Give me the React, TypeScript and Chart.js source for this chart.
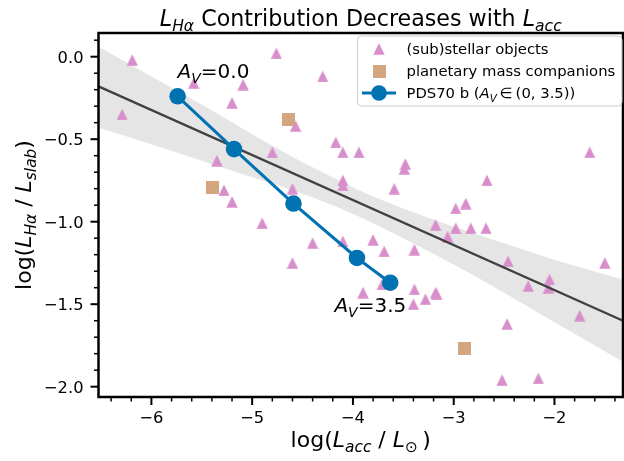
import React, { useEffect, useRef } from 'react';
import { Chart, registerables } from 'chart.js';

Chart.register(...registerables);

// ---- data ----
const stellarX = [
  -6.19, -4.76, -5.58, -5.09, -4.30, -5.20, -6.29, -4.57, -4.17, -4.10,
  -3.94, -4.80, -5.35, -5.28, -4.10, -4.10, -4.60, -5.20, -4.90, -1.65,
  -3.48, -3.49, -2.67, -3.59, -2.98, -2.88, -3.18, -2.98, -2.83, -2.68,
  -3.06, -3.80, -3.69, -3.39, -4.10, -4.40, -4.60, -3.71, -3.90, -3.39,
  -3.18, -3.17, -3.28, -3.40, -2.46, -2.26, -2.05, -2.06, -1.50, -1.75,
  -2.47, -2.52, -2.16,
];
const stellarY = [
  -0.02, 0.02, -0.16, -0.17, -0.12, -0.28, -0.35, -0.42, -0.52, -0.58,
  -0.58, -0.58, -0.63, -0.81, -0.75, -0.78, -0.80, -0.88, -1.01, -0.58,
  -0.65, -0.68, -0.75, -0.80, -0.92, -0.89, -1.02, -1.04, -1.04, -1.04,
  -1.09, -1.11, -1.18, -1.17, -1.12, -1.13, -1.25, -1.38, -1.43, -1.41,
  -1.43, -1.44, -1.47, -1.50, -1.24, -1.39, -1.35, -1.40, -1.25, -1.57,
  -1.62, -1.96, -1.95,
];
const companionX = [-4.64, -5.39, -2.89];
const companionY = [-0.38, -0.79, -1.77];
const pdsX = [-5.74, -5.18, -4.59, -3.96, -3.63];
const pdsY = [-0.24, -0.56, -0.89, -1.22, -1.37];
const avLabels = ['0.0', '3.5'];
const fitX = [-6.525, -1.32];
const fitY = [-0.18, -1.6];
const bandX = [-6.525, -6.0, -5.5, -5.0, -4.5, -4.2, -3.9, -3.5, -3.0, -2.5, -2.0, -1.32];
const bandUpper = [0.06, -0.12, -0.29, -0.47, -0.64, -0.73, -0.82, -0.92, -1.03, -1.13, -1.23, -1.35];
const bandLower = [-0.43, -0.53, -0.63, -0.73, -0.83, -0.90, -0.98, -1.10, -1.26, -1.43, -1.61, -1.85];
const xTicks = [-6, -5, -4, -3, -2];
const yTicks = [0, -0.5, -1, -1.5, -2];
const xRange = [-6.525, -1.32];
const yRange = [-2.0625, 0.1436];

const FAM = '"DejaVu Sans"';
const TRI_COLOR = 'rgb(216,142,203)';
const SQ_COLOR = 'rgb(212,166,128)';
const BLUE = '#0072B2';

type Seg = { t: string; it?: boolean; sub?: boolean };

function fontOf(size: number, it?: boolean) {
  return `${it ? 'italic ' : ''}${size}px ${FAM}`;
}
function segWidth(ctx: CanvasRenderingContext2D, s: Seg, size: number) {
  ctx.font = fontOf(s.sub ? size * 0.7 : size, s.it);
  return ctx.measureText(s.t).width;
}
function drawRich(ctx: CanvasRenderingContext2D, segs: Seg[], x: number, y: number, size: number, align: 'left' | 'center' | 'right') {
  const w = segs.reduce((acc, s) => acc + segWidth(ctx, s, size), 0);
  let cx = align === 'center' ? x - w / 2 : align === 'right' ? x - w : x;
  ctx.textAlign = 'left';
  ctx.textBaseline = 'alphabetic';
  for (const s of segs) {
    const sw = segWidth(ctx, s, size);
    ctx.font = fontOf(s.sub ? size * 0.7 : size, s.it);
    ctx.fillText(s.t, cx, y + (s.sub ? size * 0.22 : 0));
    cx += sw;
  }
}

function makeMarker(kind: 'tri' | 'sq', size: number, color: string) {
  const c = document.createElement('canvas');
  c.width = size;
  c.height = size;
  const g = c.getContext('2d')!;
  g.fillStyle = color;
  if (kind === 'tri') {
    g.beginPath();
    g.moveTo(size / 2, 0.3);
    g.lineTo(size - 0.3, size - 0.3);
    g.lineTo(0.3, size - 0.3);
    g.closePath();
    g.fill();
  } else {
    g.fillRect(0, 0, size, size);
  }
  return c;
}

export default function App() {
  const ref = useRef<HTMLCanvasElement>(null);
  useEffect(() => {
    document.body.style.margin = '0';
    const canvas = ref.current!;
    const tri = makeMarker('tri', 12, TRI_COLOR);
    const sq = makeMarker('sq', 13, SQ_COLOR);
    const pts = (xs: number[], ys: number[]) => xs.map((x, i) => ({ x, y: ys[i] }));

    const decor = {
      id: 'decor',
      afterDatasetsDraw(chart: any) {
        const { ctx, chartArea: a, scales } = chart;
        const xs = scales.x;
        const ys = scales.y;
        ctx.save();
        ctx.fillStyle = '#000';
        ctx.strokeStyle = '#000';

        // frame
        ctx.lineWidth = 2.5;
        ctx.strokeRect(a.left, a.top, a.right - a.left, a.bottom - a.top);

        // x ticks
        for (let i = Math.ceil(xRange[0] / 0.2 - 1e-6); i <= Math.floor(xRange[1] / 0.2 + 1e-6); i++) {
          const v = i * 0.2;
          const major = Math.abs(v - Math.round(v)) < 1e-6;
          const px = xs.getPixelForValue(v);
          ctx.lineWidth = major ? 2 : 1.5;
          ctx.beginPath();
          ctx.moveTo(px, a.bottom);
          ctx.lineTo(px, a.bottom + (major ? 8 : 4.5));
          ctx.stroke();
        }
        ctx.font = fontOf(16.3);
        ctx.textAlign = 'center';
        ctx.textBaseline = 'alphabetic';
        for (const v of xTicks) {
          ctx.fillText('\u2212' + Math.abs(v).toFixed(0), xs.getPixelForValue(v), 423);
        }

        // y ticks
        for (let i = Math.ceil(yRange[0] / 0.1 - 1e-6); i <= Math.floor(yRange[1] / 0.1 + 1e-6); i++) {
          const v = i * 0.1;
          const major = Math.abs(v * 2 - Math.round(v * 2)) < 1e-6;
          const py = ys.getPixelForValue(v);
          ctx.lineWidth = major ? 2 : 1.5;
          ctx.beginPath();
          ctx.moveTo(a.left, py);
          ctx.lineTo(a.left - (major ? 8 : 4.5), py);
          ctx.stroke();
        }
        ctx.font = fontOf(16.3);
        ctx.textAlign = 'right';
        for (const v of yTicks) {
          const s = (v < 0 ? '\u2212' : '') + Math.abs(v).toFixed(1);
          ctx.fillText(s, 83.5, ys.getPixelForValue(v) + 6);
        }

        // title
        drawRich(ctx, [
          { t: 'L', it: true }, { t: 'H\u03b1', it: true, sub: true },
          { t: ' Contribution Decreases with ' },
          { t: 'L', it: true }, { t: 'acc', it: true, sub: true },
        ], (a.left + a.right) / 2, 26, 22.2, 'center');

        // x label
        drawRich(ctx, [
          { t: 'log(' }, { t: 'L', it: true }, { t: 'acc', it: true, sub: true },
          { t: ' / ' }, { t: 'L', it: true }, { t: '\u2299', sub: true }, { t: '\u2009)' },
        ], (a.left + a.right) / 2, 447, 22, 'center');

        // y label
        ctx.save();
        ctx.translate(31, (a.top + a.bottom) / 2);
        ctx.rotate(-Math.PI / 2);
        drawRich(ctx, [
          { t: 'log(' }, { t: 'L', it: true }, { t: 'H\u03b1', it: true, sub: true },
          { t: ' / ' }, { t: 'L', it: true }, { t: 'slab', it: true, sub: true }, { t: ')' },
        ], 0, 0, 22, 'center');
        ctx.restore();

        // annotations
        const p0x = xs.getPixelForValue(pdsX[0]);
        const p0y = ys.getPixelForValue(pdsY[0]);
        const n = pdsX.length - 1;
        const pnx = xs.getPixelForValue(pdsX[n]);
        const pny = ys.getPixelForValue(pdsY[n]);
        drawRich(ctx, [{ t: 'A', it: true }, { t: 'V', it: true, sub: true }, { t: '=' + avLabels[0] }], p0x, p0y - 18, 20, 'left');
        drawRich(ctx, [{ t: 'A', it: true }, { t: 'V', it: true, sub: true }, { t: '=' + avLabels[1] }], pnx + 16, pny + 29.5, 20, 'right');

        // legend
        const lx = 357.5, ly = 36, lw = 264.5, lh = 70;
        ctx.beginPath();
        if ((ctx as any).roundRect) (ctx as any).roundRect(lx, ly, lw, lh, 4);
        else ctx.rect(lx, ly, lw, lh);
        ctx.fillStyle = 'rgba(255,255,255,0.8)';
        ctx.fill();
        ctx.strokeStyle = '#cccccc';
        ctx.lineWidth = 1;
        ctx.stroke();

        const mx = 379, tx = 406.5;
        const rows = [49, 71, 93];
        ctx.drawImage(tri, mx - 6, rows[0] - 6);
        ctx.drawImage(sq, mx - 6.5, rows[1] - 6.5);
        ctx.strokeStyle = BLUE;
        ctx.lineWidth = 3;
        ctx.beginPath();
        ctx.moveTo(362, rows[2]);
        ctx.lineTo(396, rows[2]);
        ctx.stroke();
        ctx.fillStyle = BLUE;
        ctx.beginPath();
        ctx.arc(mx, rows[2], 7.8, 0, Math.PI * 2);
        ctx.fill();

        ctx.fillStyle = '#000';
        drawRich(ctx, [{ t: '(sub)stellar objects' }], tx, rows[0] + 5.3, 14.8, 'left');
        drawRich(ctx, [{ t: 'planetary mass companions' }], tx, rows[1] + 5.3, 14.8, 'left');
        drawRich(ctx, [
          { t: 'PDS70 b (' }, { t: 'A', it: true }, { t: 'V', it: true, sub: true },
          { t: '\u2009\u2208\u2009' }, { t: '(0, 3.5)' }, { t: ')' },
        ], tx, rows[2] + 5.3, 14.8, 'left');

        ctx.restore();
      },
    };

    const chart = new Chart(canvas, {
      type: 'scatter',
      data: {
        datasets: [
          {
            label: 'band upper', data: pts(bandX, bandUpper), showLine: true,
            borderColor: 'rgba(0,0,0,0)', borderWidth: 1, pointRadius: 0,
            fill: '+1', backgroundColor: 'rgba(0,0,0,0.1)',
            cubicInterpolationMode: 'monotone', order: 6,
          } as any,
          {
            label: 'band lower', data: pts(bandX, bandLower), showLine: true,
            borderColor: 'rgba(0,0,0,0)', borderWidth: 1, pointRadius: 0,
            fill: false, cubicInterpolationMode: 'monotone', order: 6,
          } as any,
          {
            label: '(sub)stellar objects', data: pts(stellarX, stellarY),
            pointStyle: tri, pointRadius: 6, order: 4,
          } as any,
          {
            label: 'planetary mass companions', data: pts(companionX, companionY),
            pointStyle: sq, pointRadius: 6.5, order: 3,
          } as any,
          {
            label: 'fit', data: pts(fitX, fitY), showLine: true,
            borderColor: '#404040', borderWidth: 2.3, pointRadius: 0, order: 2,
          } as any,
          {
            label: 'PDS70 b', data: pts(pdsX, pdsY), showLine: true,
            borderColor: BLUE, borderWidth: 3, pointRadius: 8.3,
            pointBackgroundColor: BLUE, pointBorderColor: BLUE, pointBorderWidth: 0, order: 1,
          } as any,
        ],
      },
      options: {
        responsive: false,
        animation: false,
        devicePixelRatio: 1,
        layout: { autoPadding: false, padding: { top: 33, right: 1, left: 0, bottom: 0 } },
        plugins: { legend: { display: false }, tooltip: { enabled: false }, title: { display: false } },
        events: [],
        scales: {
          x: {
            type: 'linear', min: xRange[0], max: xRange[1],
            ticks: { display: false }, grid: { display: false }, border: { display: false },
            afterFit: (s: any) => { s.height = 64; },
          },
          y: {
            type: 'linear', min: yRange[0], max: yRange[1],
            ticks: { display: false }, grid: { display: false }, border: { display: false },
            afterFit: (s: any) => { s.width = 98.5; },
          },
        },
      } as any,
      plugins: [decor],
    });
    return () => chart.destroy();
  }, []);

  return (
    <div style={{ width: 624, height: 461 }}>
      <canvas ref={ref} width={624} height={461} style={{ display: 'block' }} />
    </div>
  );
}
